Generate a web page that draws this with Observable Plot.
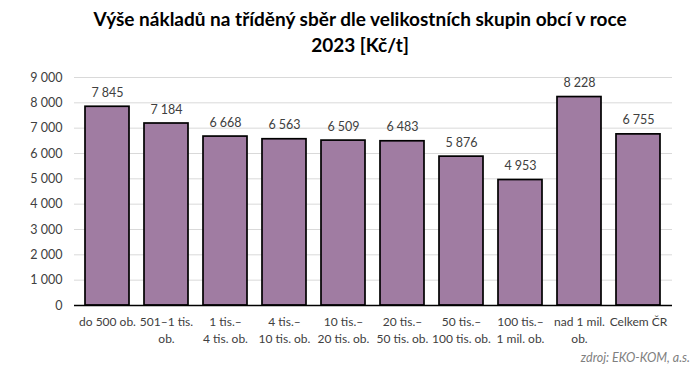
<!DOCTYPE html>
<html><head><meta charset="utf-8">
<script src="https://cdn.jsdelivr.net/npm/d3@7"></script>
<script src="https://cdn.jsdelivr.net/npm/@observablehq/plot@0.6"></script>
<style>
body{margin:0;background:#fff;font-family:Lato,"Open Sans",sans-serif;}
#wrap{position:relative;width:700px;height:389px;}
#title{position:absolute;top:6px;left:10px;width:700px;text-align:center;font-weight:bold;font-size:19px;line-height:26px;color:#000;}
#src{position:absolute;right:10px;top:350px;font-style:italic;font-size:12.5px;color:#7f7f7f;}
</style></head>
<body><div id="wrap"><div id="title">Výše nákladů na tříděný sběr dle velikostních skupin obcí v roce<br>2023 [Kč/t]</div><div id="chart"></div><div id="src">zdroj: EKO-KOM, a.s.</div></div>
<script>
const categories = ["do 500 ob.", "501–1 tis.\nob.", "1 tis.–\n4 tis. ob.", "4 tis.–\n10 tis. ob.", "10 tis.–\n20 tis. ob.", "20 tis.–\n50 tis. ob.", "50 tis.–\n100 tis. ob.", "100 tis.–\n1 mil. ob.", "nad 1 mil.\nob.", "Celkem ČR"];
const values = [7845, 7184, 6668, 6563, 6509, 6483, 5876, 4953, 8228, 6755];
const yTicks = [0, 1000, 2000, 3000, 4000, 5000, 6000, 7000, 8000, 9000];
const data = categories.map((c, i) => ({cat: c, v: values[i]}));
const fmt = v => d3.format(",")(v).replace(/,/g, " ");
const chart = Plot.plot({
  width: 700, height: 389,
  marginTop: 77, marginBottom: 84, marginLeft: 74, marginRight: 28,
  style: {fontFamily: "Lato, 'Open Sans', sans-serif", fontSize: "12px", color: "#404040", background: "transparent"},
  x: {domain: categories, paddingInner: 0.25, paddingOuter: 0.125, label: null},
  y: {domain: [0, 9000], label: null},
  marks: [
    Plot.gridY(yTicks, {stroke: "#d9d9d9", strokeOpacity: 1}),
    Plot.axisY({ticks: yTicks, tickFormat: fmt, tickSize: 0, tickPadding: 12, fontSize: 12.5, fill: "#404040"}),
    Plot.axisX({tickSize: 0, tickPadding: 8, fontSize: 12, lineHeight: 1.45, fill: "#404040"}),
    Plot.barY(data, {x: "cat", y: "v", fill: "#a07ca2", stroke: "#000", strokeWidth: 1.7}),
    Plot.ruleY([0], {stroke: "#000", strokeWidth: 1.5}),
    Plot.text(data, {x: "cat", y: "v", text: d => fmt(d.v), dy: -14, fontSize: 12.5, fill: "#404040"})
  ]
});
document.getElementById("chart").appendChild(chart);
</script></body></html>
